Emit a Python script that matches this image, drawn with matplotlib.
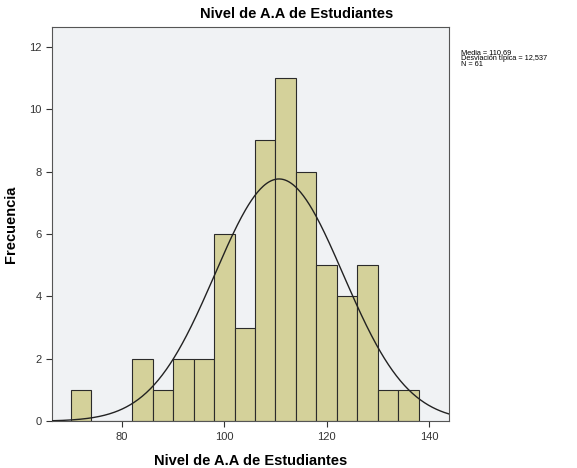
import numpy as np
import matplotlib
matplotlib.use("Agg")
import matplotlib.pyplot as plt

# Histogram data (bin width = 4)
bin_edges = [70, 74, 78, 82, 86, 90, 94, 98, 102, 106, 110, 114, 118, 122, 126, 130, 134, 138]
counts = [1, 0, 0, 2, 1, 2, 2, 6, 3, 9, 11, 8, 5, 4, 5, 1, 1]
mean = 110.69
std = 12.537
n = 61

x_ticks = [80, 100, 120, 140]
y_ticks = [0, 2, 4, 6, 8, 10, 12]

plt.rcParams["font.family"] = ["Liberation Sans", "DejaVu Sans"]

fig = plt.figure(figsize=(5.77, 4.68), dpi=100)
ax = fig.add_axes([0.090, 0.100, 0.688, 0.842])
ax.set_facecolor("#F0F2F4")

widths = np.diff(bin_edges)
ax.bar(bin_edges[:-1], counts, width=widths, align="edge",
       color="#D4D19A", edgecolor="#2b2b2b", linewidth=0.8, zorder=2)

# normal curve scaled to counts
xs = np.linspace(66, 144, 400)
ys = n * widths[0] * np.exp(-0.5 * ((xs - mean) / std) ** 2) / (std * np.sqrt(2 * np.pi))
ax.plot(xs, ys, color="#222222", linewidth=1.0, zorder=3)

ax.set_xlim(66.3, 143.9)
ax.set_ylim(0, 12.63)
ax.set_xticks(x_ticks)
ax.set_yticks(y_ticks)
ax.tick_params(labelsize=8, colors="#333333", length=4, width=0.8)
for s in ax.spines.values():
    s.set_color("#555555")
    s.set_linewidth(0.8)

ax.set_xlabel("Nivel de A.A de Estudiantes", fontsize=10.5, fontweight="bold")
ax.set_ylabel("Frecuencia", fontsize=10.5, fontweight="bold")
ax.xaxis.set_label_coords(0.5, -0.082)
ax.yaxis.set_label_coords(-0.086, 0.5)
fig.text(297 / 577, 1 - 14 / 468, "Nivel de A.A de Estudiantes",
         ha="center", va="center", fontsize=10.5, fontweight="bold")

fig.text(461 / 577, 1 - 49 / 468,
         f"Media = {mean:.2f}".replace(".", ",") + "\n"
         + f"Desviación típica = {std:.3f}".replace(".", ",") + f"\nN = {n}",
         ha="left", va="top", fontsize=5.3, linespacing=0.85)

fig.savefig("out.png", dpi=100)
